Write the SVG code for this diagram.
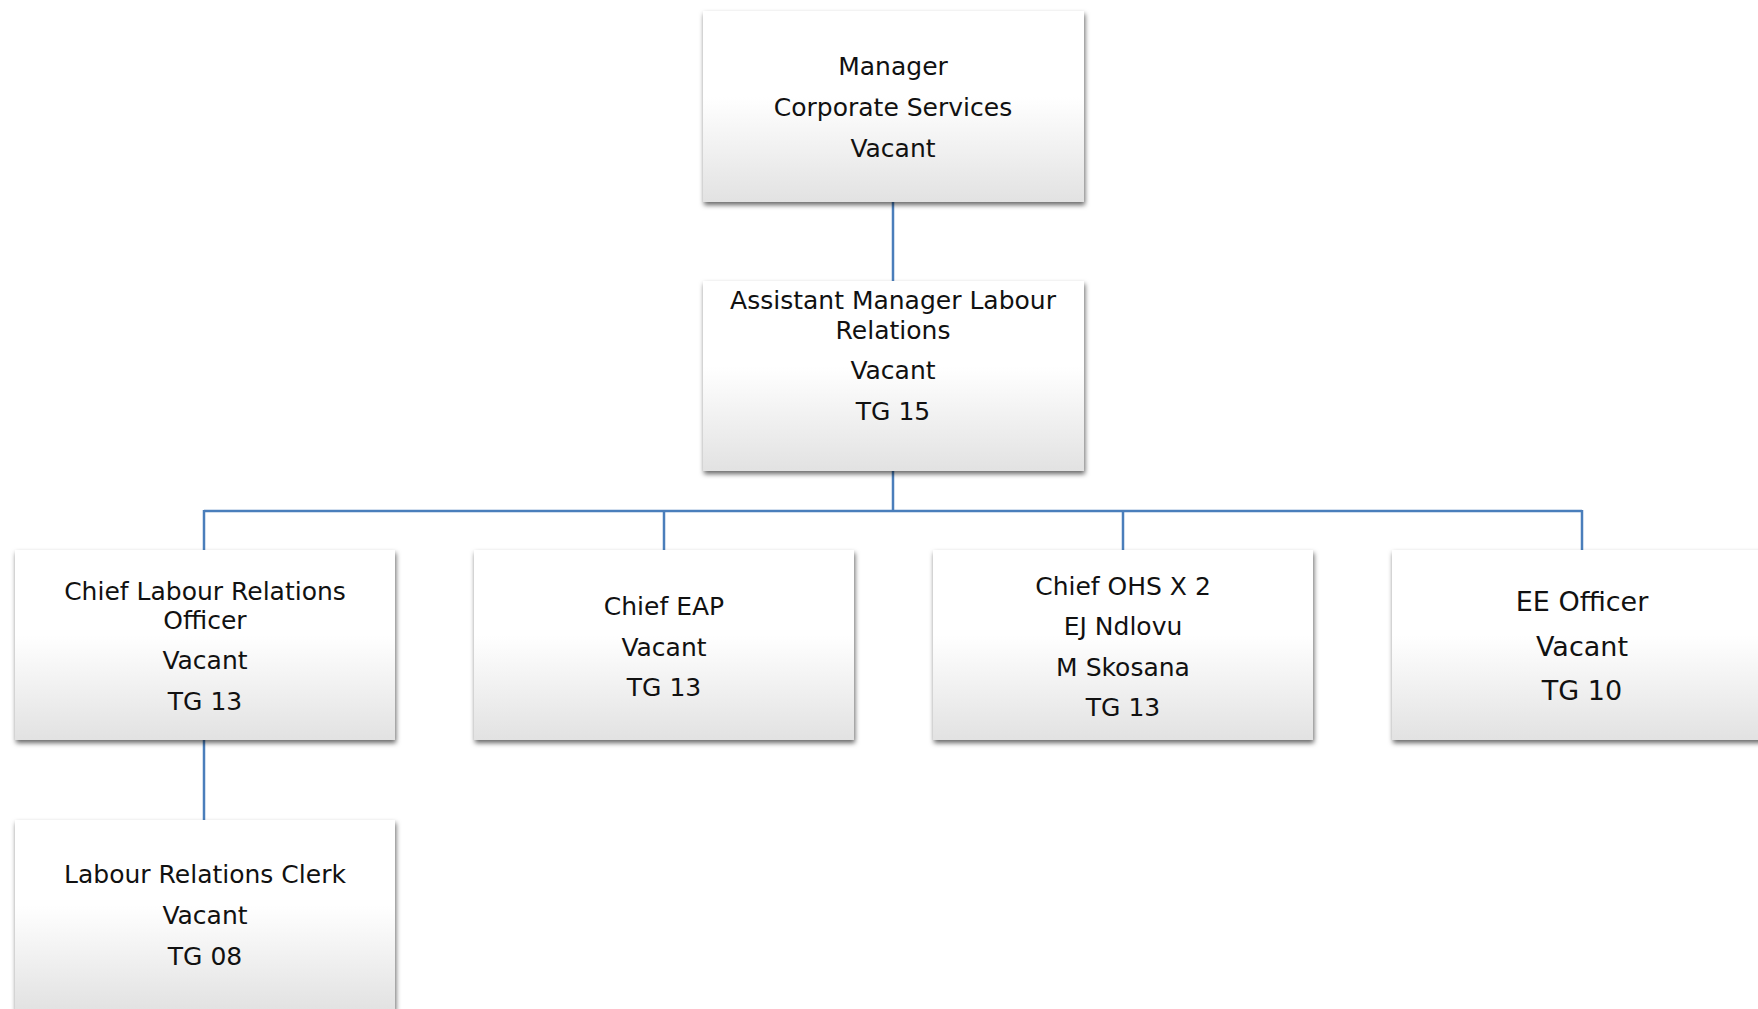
<svg xmlns="http://www.w3.org/2000/svg" width="1758" height="1009" viewBox="0 0 1758 1009">
<defs>
<linearGradient id="g" x1="0" y1="0" x2="0" y2="1">
<stop offset="0" stop-color="#ffffff"/>
<stop offset="0.45" stop-color="#ffffff"/>
<stop offset="1" stop-color="#e2e2e2"/>
</linearGradient>
<filter id="sh" x="-10%" y="-10%" width="120%" height="125%">
<feDropShadow dx="1" dy="3" stdDeviation="2.5" flood-color="#000" flood-opacity="0.6"/>
</filter>
</defs>
<style>
.box{fill:url(#g);filter:url(#sh);}
.t{font-family:"DejaVu Sans",sans-serif;font-size:25px;fill:#111;text-anchor:middle;}
.big{font-size:27px;}
.c{stroke:#4a7ebb;stroke-width:2.5;fill:none;}
</style>
<rect width="1758" height="1009" fill="#ffffff"/>
<g id="connectors">
<line class="c" x1="893" y1="202" x2="893" y2="281"/>
<line class="c" x1="893" y1="471" x2="893" y2="511"/>
<line class="c" x1="204" y1="511" x2="1582" y2="511"/>
<line class="c" x1="204" y1="510" x2="204" y2="550"/>
<line class="c" x1="664" y1="511" x2="664" y2="550"/>
<line class="c" x1="1123" y1="511" x2="1123" y2="550"/>
<line class="c" x1="1582" y1="510" x2="1582" y2="550"/>
<line class="c" x1="204" y1="740" x2="204" y2="820"/>
</g>
<g id="manager">
<rect class="box" x="703" y="11" width="381" height="191"/>
<text class="t" x="893" y="75">Manager</text>
<text class="t" x="893" y="116">Corporate Services</text>
<text class="t" x="893" y="157">Vacant</text>
</g>
<g id="asst-manager">
<rect class="box" x="703" y="281" width="381" height="190"/>
<text class="t" x="893" y="309">Assistant Manager Labour</text>
<text class="t" x="893" y="338.5">Relations</text>
<text class="t" x="893" y="379">Vacant</text>
<text class="t" x="893" y="420">TG 15</text>
</g>
<g id="chief-lr">
<rect class="box" x="15" y="550" width="380" height="190"/>
<text class="t" x="205" y="600">Chief Labour Relations</text>
<text class="t" x="205" y="629">Officer</text>
<text class="t" x="205" y="669">Vacant</text>
<text class="t" x="205" y="710">TG 13</text>
</g>
<g id="chief-eap">
<rect class="box" x="474" y="550" width="380" height="190"/>
<text class="t" x="664" y="615">Chief EAP</text>
<text class="t" x="664" y="655.5">Vacant</text>
<text class="t" x="664" y="695.5">TG 13</text>
</g>
<g id="chief-ohs">
<rect class="box" x="933" y="550" width="380" height="190"/>
<text class="t" x="1123" y="595">Chief OHS X 2</text>
<text class="t" x="1123" y="635">EJ Ndlovu</text>
<text class="t" x="1123" y="675.5">M Skosana</text>
<text class="t" x="1123" y="715.5">TG 13</text>
</g>
<g id="ee-officer">
<rect class="box" x="1392" y="550" width="381" height="190"/>
<text class="t big" x="1582" y="610.5">EE Officer</text>
<text class="t big" x="1582" y="656">Vacant</text>
<text class="t big" x="1582" y="700">TG 10</text>
</g>
<g id="lr-clerk">
<rect class="box" x="15" y="820" width="380" height="190"/>
<text class="t" x="205" y="883">Labour Relations Clerk</text>
<text class="t" x="205" y="924">Vacant</text>
<text class="t" x="205" y="965">TG 08</text>
</g>
</svg>
